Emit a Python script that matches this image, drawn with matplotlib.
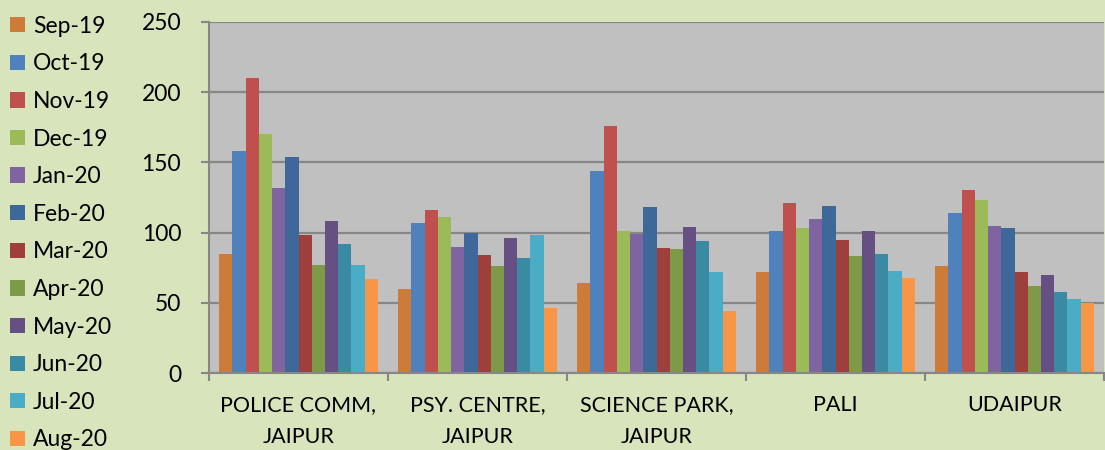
import numpy as np
import matplotlib.pyplot as plt
from matplotlib.patches import Patch

plt.rcParams['font.family'] = ['Lato', 'DejaVu Sans']

categories = ['POLICE COMM,\nJAIPUR', 'PSY. CENTRE,\nJAIPUR', 'SCIENCE PARK,\nJAIPUR', 'PALI', 'UDAIPUR']
months = ['Sep-19', 'Oct-19', 'Nov-19', 'Dec-19', 'Jan-20', 'Feb-20',
          'Mar-20', 'Apr-20', 'May-20', 'Jun-20', 'Jul-20', 'Aug-20']

# one list per month, values for the 5 locations
sep19 = [85, 60, 64, 72, 76]
oct19 = [158, 107, 144, 101, 114]
nov19 = [210, 116, 176, 121, 130]
dec19 = [170, 111, 101, 103, 123]
jan20 = [132, 90, 99, 110, 105]
feb20 = [154, 100, 118, 119, 103]
mar20 = [98, 84, 89, 95, 72]
apr20 = [77, 76, 88, 83, 62]
may20 = [108, 96, 104, 101, 70]
jun20 = [92, 82, 94, 85, 58]
jul20 = [77, 98, 72, 73, 53]
aug20 = [67, 46, 44, 68, 50]

series = [sep19, oct19, nov19, dec19, jan20, feb20, mar20, apr20, may20, jun20, jul20, aug20]
colors = ['#CD7B38', '#4F81BD', '#C0504D', '#9BBB59', '#8064A2', '#3D6899',
          '#9E3F3C', '#7E9A48', '#664F82', '#3A8AA3', '#4BACC6', '#F79646']

fig = plt.figure(figsize=(11.05, 4.5), dpi=100)
fig.patch.set_facecolor('#D8E4BC')
ax = fig.add_axes([209/1105, 1-373/450, 895/1105, 351/450])
ax.set_facecolor('#C0C0C0')

x = np.arange(len(categories))
n = len(series)
w = 0.888 / n
for i, (vals, c) in enumerate(zip(series, colors)):
    ax.bar(x - 0.444 + w*(i+0.5), vals, width=w, color=c, label=months[i])

ax.set_xlim(-0.5, len(categories)-0.5)
ax.set_ylim(0, 250)
ax.set_yticks(range(0, 251, 50))
ax.set_axisbelow(True)
ax.yaxis.grid(True, color='#878787', linewidth=1.6)

ax.set_xticks(x)
ax.set_xticklabels(categories, fontsize=15.5, linespacing=1.75)
ax.tick_params(axis='x', length=0, pad=16)
ax.set_xticks(np.arange(-0.5, len(categories)), minor=True)
ax.tick_params(axis='x', which='minor', length=6, color='#878787', width=1.5)
ax.tick_params(axis='y', labelsize=16.5, length=6, color='#878787', width=1.5, pad=14)

for s in ['top', 'right']:
    ax.spines[s].set_visible(False)
for s in ['left', 'bottom']:
    ax.spines[s].set_color('#878787')
    ax.spines[s].set_linewidth(1.5)

handles = [Patch(facecolor=c, label=m) for c, m in zip(colors, months)]
fig.legend(handles=handles, loc='upper left', bbox_to_anchor=(0.0, 0.988), frameon=False,
           fontsize=16.5, handlelength=0.65, handleheight=0.65, handletextpad=0.35,
           labelspacing=0.725, borderaxespad=0.0, borderpad=0.45)

fig.savefig('out.png', dpi=100, facecolor=fig.get_facecolor())
